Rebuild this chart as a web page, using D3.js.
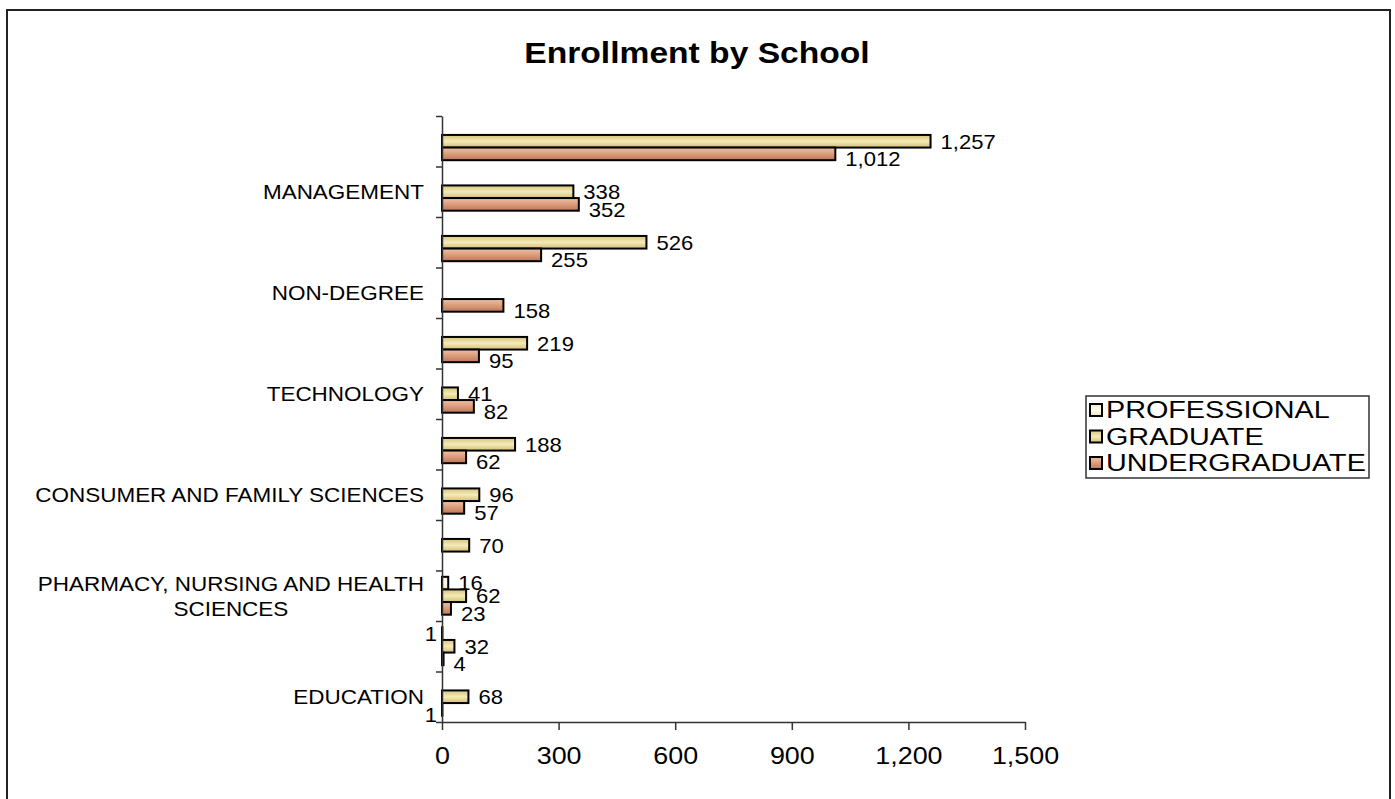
<!DOCTYPE html>
<html>
<head>
<meta charset="utf-8">
<script src="https://cdn.jsdelivr.net/npm/d3@7"></script>
<style>
  body { margin: 0; background: #fff; }
  text { font-family: Arial, "Liberation Sans", sans-serif; fill: #000; }
</style>
</head>
<body>
<div id="barchart"></div>
<script>
// chart data (top category first)
var categories = ["", "MANAGEMENT", "", "NON-DEGREE", "", "TECHNOLOGY", "",
  "CONSUMER AND FAMILY SCIENCES", "", "PHARMACY, NURSING AND HEALTH SCIENCES", "", "EDUCATION"]
var seriesNames = ["PROFESSIONAL", "GRADUATE", "UNDERGRADUATE"]
var professional = [null, null, null, null, null, null, null, null, null, 16, 1, null]
var graduate = [1257, 338, 526, null, 219, 41, 188, 96, 70, 62, 32, 68]
var undergraduate = [1012, 352, 255, 158, 95, 82, 62, 57, null, 23, 4, 1]
var xTicks = [0, 300, 600, 900, 1200, 1500]

// size of the page and of the plot area
var width = 1395,
    height = 799,
    plot = {left: 442, right: 1025, top: 116, bottom: 722}

// the original text is a bit wider than plain arial, stretch it
function stretch(sel, k) {
  sel.each(function() {
    var n = this.getComputedTextLength()
    d3.select(this).attr("textLength", n * k).attr("lengthAdjust", "spacingAndGlyphs")
  })
}

let svg = d3.select("#barchart")
  .append("svg")
    .attr("width", width)
    .attr("height", height)

// gradients like the old excel fills
var defs = svg.append("defs")
var fills = [
  {id: "gProf", stops: ["#f3ead0", "#fffbea", "#efe4c4"]},
  {id: "gGrad", stops: ["#d6c27a", "#f5ebb8", "#d2bd74"]},
  {id: "gUnder", stops: ["#eec3a6", "#dc9c7a", "#bb775a"]}
]
fills.forEach(function(f) {
  var lg = defs.append("linearGradient").attr("id", f.id)
    .attr("x1", 0).attr("y1", 0).attr("x2", 0).attr("y2", 1)
  f.stops.forEach(function(c, i) {
    lg.append("stop").attr("offset", i / (f.stops.length - 1)).attr("stop-color", c)
  })
})

// outer border of the chart
svg.append("rect")
  .attr("x", 7).attr("y", 10)
  .attr("width", 1383).attr("height", 820)
  .attr("fill", "none")
  .attr("stroke", "#222")
  .attr("stroke-width", 2)

// title
svg.append("text")
  .attr("x", 697).attr("y", 63)
  .attr("text-anchor", "middle")
  .style("font-size", "30px")
  .style("font-weight", "bold")
  .text("Enrollment by School")
  .call(stretch, 1.12)

// scales
var x = d3.scaleLinear()
  .domain([0, 1500])
  .range([plot.left, plot.right])

var y = d3.scaleBand()
  .domain(d3.range(categories.length))
  .range([plot.top, plot.bottom])
  .padding(0)

// three slots in each category, gap width 100%
var ySub = d3.scaleBand()
  .domain(seriesNames)
  .range([0, y.bandwidth()])
  .paddingInner(0)
  .paddingOuter(0.5)

// flatten to one row per bar
var series = [
  {name: "PROFESSIONAL", values: professional, fill: "url(#gProf)", dy: 0},
  {name: "GRADUATE", values: graduate, fill: "url(#gGrad)", dy: 0},
  {name: "UNDERGRADUATE", values: undergraduate, fill: "url(#gUnder)", dy: 5}
]
var bars = []
series.forEach(function(s) {
  s.values.forEach(function(v, i) {
    if (v != null) bars.push({cat: i, series: s.name, value: v, fill: s.fill, dy: s.dy})
  })
})

svg.selectAll(".bar")
  .data(bars)
  .enter()
  .append("rect")
    .attr("class", "bar")
    .attr("x", x(0))
    .attr("y", function(d) { return y(d.cat) + ySub(d.series) })
    .attr("width", function(d) { return x(d.value) - x(0) })
    .attr("height", ySub.bandwidth())
    .attr("fill", function(d) { return d.fill })
    .attr("stroke", "#000")
    .attr("stroke-width", 2)

// value labels, the tiny ones land left of the axis like in the original
svg.selectAll(".vlabel")
  .data(bars)
  .enter()
  .append("text")
    .attr("class", "vlabel")
    .attr("x", function(d) { return d.value < 2 ? x(0) - 5 : x(d.value) + 10 })
    .attr("y", function(d) { return y(d.cat) + ySub(d.series) + ySub.bandwidth() / 2 + d.dy })
    .attr("dy", "0.35em")
    .attr("text-anchor", function(d) { return d.value < 2 ? "end" : "start" })
    .style("font-size", "21px")
    .text(function(d) { return d3.format(",")(d.value) })
    .call(stretch, 1.05)

// y axis: ticks on category boundaries
var yEdge = d3.scaleLinear()
  .domain([0, categories.length])
  .range([plot.top, plot.bottom])

svg.append("g")
  .attr("class", "yaxis")
  .attr("transform", "translate(" + plot.left + ",0)")
  .call(d3.axisLeft(yEdge).ticks(categories.length).tickSize(6).tickSizeOuter(0).tickFormat(""))

// x axis
svg.append("g")
  .attr("class", "xaxis")
  .attr("transform", "translate(0," + plot.bottom + ")")
  .call(d3.axisBottom(x).tickValues(xTicks).tickSize(8).tickSizeOuter(0)
    .tickPadding(17).tickFormat(d3.format(",")))

svg.selectAll(".xaxis text")
  .attr("fill", "#000")
  .style("font-size", "24px")
  .style("font-family", "Arial, 'Liberation Sans', sans-serif")
  .call(stretch, 1.12)

svg.selectAll(".yaxis path, .yaxis line, .xaxis path, .xaxis line")
  .attr("stroke", "#333")
  .attr("stroke-width", 1.5)

// category labels, wrapped when too long, one text per line
var labels = svg.append("g").attr("class", "catlabels")
var catK = 1.07, boxRight = 424, maxW = 400
categories.forEach(function(c, i) {
  if (!c) return
  var words = c.split(" "), lines = [], line = []
  var probe = labels.append("text").style("font-size", "21px")
  words.forEach(function(w) {
    line.push(w)
    probe.text(line.join(" "))
    if (probe.node().getComputedTextLength() * catK > maxW && line.length > 1) {
      line.pop()
      lines.push(line.join(" "))
      line = [w]
    }
  })
  lines.push(line.join(" "))
  probe.remove()

  var cy = y(i) + y.bandwidth() / 2
  var lh = 25
  var texts = lines.map(function(l, k) {
    return labels.append("text")
      .attr("y", cy + (k - (lines.length - 1) / 2) * lh)
      .attr("dy", "0.35em")
      .style("font-size", "21px")
      .text(l)
      .call(stretch, catK)
  })
  if (lines.length > 1) {
    // widest line sets the box, every line is centred in it
    var wmax = d3.max(texts, function(t) { return +t.attr("textLength") })
    texts.forEach(function(t) {
      t.attr("text-anchor", "middle").attr("x", boxRight - wmax / 2)
    })
  } else {
    texts[0].attr("text-anchor", "end").attr("x", boxRight)
  }
})

// legend
var legend = svg.append("g").attr("transform", "translate(1086,396)")
legend.append("rect")
  .attr("width", 283).attr("height", 82)
  .attr("fill", "#fff")
  .attr("stroke", "#333")
  .attr("stroke-width", 1.5)

series.forEach(function(s, i) {
  var ly = 14 + i * 26.5
  legend.append("rect")
    .attr("x", 4).attr("y", ly - 6)
    .attr("width", 12).attr("height", 12)
    .attr("fill", s.fill)
    .attr("stroke", "#000")
    .attr("stroke-width", 2)
  legend.append("text")
    .attr("x", 20).attr("y", ly)
    .attr("dy", "0.35em")
    .style("font-size", "23px")
    .text(s.name)
    .call(stretch, 1.25)
})
</script>
</body>
</html>
